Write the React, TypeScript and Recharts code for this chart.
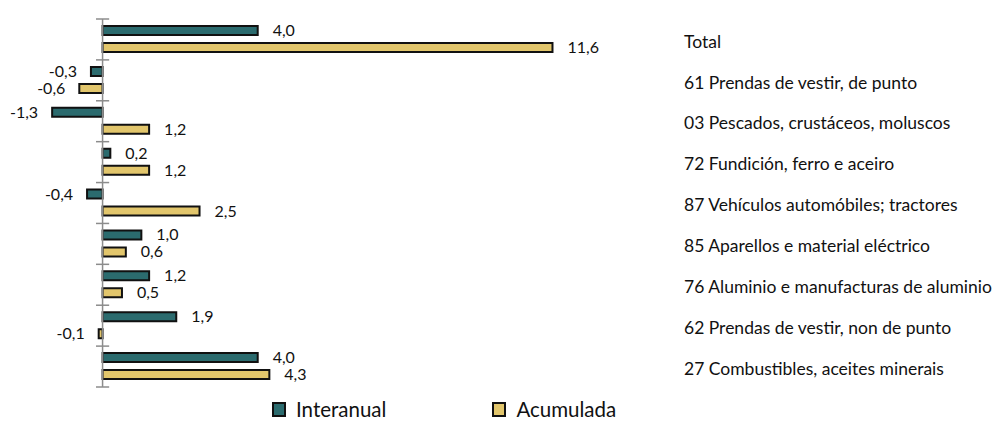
import { Bar, BarChart, LabelList, ReferenceLine, XAxis, YAxis } from "recharts";

const categories = [
  "Total",
  "61 Prendas de vestir, de punto",
  "03 Pescados, crustáceos, moluscos",
  "72 Fundición, ferro e aceiro",
  "87 Vehículos automóbiles; tractores",
  "85 Aparellos e material eléctrico",
  "76 Aluminio e manufacturas de aluminio",
  "62 Prendas de vestir, non de punto",
  "27 Combustibles, aceites minerais",
];
const interanual = [4.0, -0.3, -1.3, 0.2, -0.4, 1.0, 1.2, 1.9, 4.0];
const acumulada = [11.6, -0.6, 1.2, 1.2, 2.5, 0.6, 0.5, -0.1, 4.3];
const seriesNames = ["Interanual", "Acumulada"];

const TEAL = "#2b6b6e";
const GOLD = "#e2c66c";
const FONT = "Lato, 'Noto Sans', sans-serif";

const data = categories.map((name, i) => ({
  name,
  interanual: interanual[i],
  acumulada: acumulada[i],
}));

const fmt = (v: number) => v.toFixed(1).replace(".", ",");

function BarLabel(props: any) {
  const { x, y, width, height, value } = props;
  const left = width < 0 ? x + width : x;
  const right = width < 0 ? x : x + width;
  const neg = value < 0;
  return (
    <text
      x={neg ? left - 14 : right + 15}
      y={y + height / 2}
      dy={5.5}
      textAnchor={neg ? "end" : "start"}
      fill="#111"
      fontSize={16}
      fontFamily={FONT}
    >
      {fmt(value)}
    </text>
  );
}

function LegendBox() {
  const colors = [TEAL, GOLD];
  return (
    <div
      style={{
        position: "absolute",
        left: 272,
        top: 399,
        display: "flex",
        fontFamily: FONT,
        fontSize: 20.5,
        lineHeight: "20px",
        color: "#111",
      }}
    >
      {seriesNames.map((n, i) => (
        <div key={n} style={{ display: "flex", alignItems: "center", marginRight: i === 0 ? 106 : 0 }}>
          <span
            style={{
              width: 10,
              height: 11,
              background: colors[i],
              border: "2px solid #111",
              marginRight: 10,
            }}
          />
          <span>{n}</span>
        </div>
      ))}
    </div>
  );
}

export default function App() {
  const tickCats = [
    ...categories.map((c) => ({ c, p: "start" })),
    { c: categories[categories.length - 1], p: "end" },
  ];
  return (
    <div style={{ position: "absolute", left: 0, top: 0, width: 1006, height: 421, background: "#fff", overflow: "hidden" }}>
      <BarChart
        width={1006}
        height={421}
        data={data}
        layout="vertical"
        margin={{ top: 19, right: 0, bottom: 34, left: 25 }}
        barSize={9}
        barGap={8}
      >
        <XAxis type="number" domain={[-2, 12]} hide />
        <YAxis
          type="category"
          dataKey="name"
          orientation="right"
          width={438}
          axisLine={false}
          tickLine={false}
          tickSize={0}
          tickMargin={116}
          interval={0}
          tick={{ fill: "#111", fontSize: 17.5, fontFamily: FONT, dy: 2 }}
        />
        <ReferenceLine x={0} stroke="#8c8c8c" strokeWidth={1.5} />
        {tickCats.map((t, i) => (
          <ReferenceLine
            key={i}
            segment={[
              { x: -0.17, y: t.c },
              { x: 0.17, y: t.c },
            ]}
            position={t.p as any}
            stroke="#8c8c8c"
            strokeWidth={1.5}
          />
        ))}
        <Bar dataKey="interanual" name="Interanual" fill={TEAL} stroke="#111" strokeWidth={2} isAnimationActive={false}>
          <LabelList dataKey="interanual" content={<BarLabel />} />
        </Bar>
        <Bar dataKey="acumulada" name="Acumulada" fill={GOLD} stroke="#111" strokeWidth={2} isAnimationActive={false}>
          <LabelList dataKey="acumulada" content={<BarLabel />} />
        </Bar>
      </BarChart>
      <LegendBox />
    </div>
  );
}
